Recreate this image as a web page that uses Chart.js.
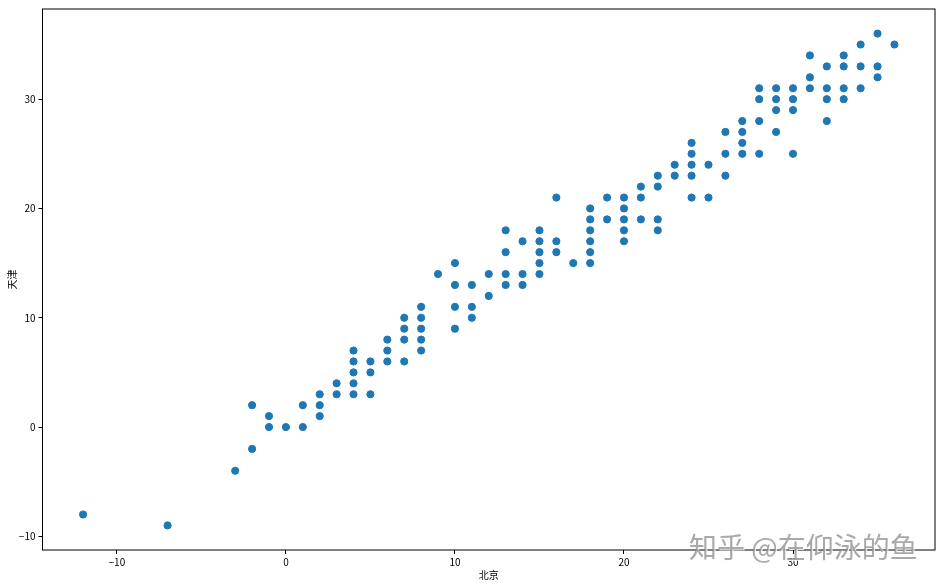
<!DOCTYPE html>
<html>
<head>
<meta charset="utf-8">
<script src="https://cdn.jsdelivr.net/npm/chart.js@4/dist/chart.umd.min.js"></script>
<style>
  body { margin: 0; background: #fff; }
  #box { width: 942px; height: 586px; }
</style>
</head>
<body>
<div id="box"><canvas id="myChart"></canvas></div>
<script>
'use strict';
// 北京 / 天津 temperatures
const beijing = [
    -12, -7, -3, -2, -2, -1, -1, 0, 1, 1,
    2, 2, 2, 3, 3, 4, 4, 4, 4, 4,
    5, 5, 5, 6, 6, 6, 7, 7, 7, 7,
    8, 8, 8, 8, 8, 9, 10, 10, 10, 10,
    11, 11, 11, 12, 12, 13, 13, 13, 13, 14,
    14, 14, 15, 15, 15, 15, 15, 16, 16, 16,
    17, 18, 18, 18, 18, 18, 18, 19, 19, 20,
    20, 20, 20, 20, 21, 21, 21, 22, 22, 22,
    22, 23, 23, 24, 24, 24, 24, 24, 25, 25,
    26, 26, 26, 27, 27, 27, 27, 28, 28, 28,
    28, 29, 29, 29, 29, 30, 30, 30, 30, 31,
    31, 31, 32, 32, 32, 32, 33, 33, 33, 33,
    34, 34, 34, 35, 35, 35, 36
];
const tianjin = [
    -8, -9, -4, -2, 2, 1, 0, 0, 0, 2,
    1, 2, 3, 3, 4, 3, 4, 5, 6, 7,
    3, 5, 6, 6, 7, 8, 6, 8, 9, 10,
    7, 8, 9, 10, 11, 14, 9, 11, 13, 15,
    10, 11, 13, 12, 14, 13, 14, 16, 18, 13,
    14, 17, 14, 15, 16, 17, 18, 16, 17, 21,
    15, 15, 16, 17, 18, 19, 20, 19, 21, 17,
    18, 19, 20, 21, 19, 21, 22, 18, 19, 22,
    23, 23, 24, 21, 23, 24, 25, 26, 21, 24,
    23, 25, 27, 25, 26, 27, 28, 25, 28, 30,
    31, 27, 29, 30, 31, 25, 29, 30, 31, 31,
    32, 34, 28, 30, 31, 33, 30, 31, 33, 34,
    31, 33, 35, 32, 33, 36, 35
];
const xTicks = [-10, 0, 10, 20, 30];
const yTicks = [-10, 0, 10, 20, 30];

const points = beijing.map((x, i) => ({ x: x, y: tianjin[i] }));
const tickFont = { family: '"Noto Sans CJK SC", "DejaVu Sans", sans-serif', size: 10 };
const minusSign = v => String(v).replace('-', '\u2212');

const framePlugin = {
    id: 'frame',
    afterDraw(chart) {
        const { ctx, chartArea: a } = chart;
        ctx.save();
        ctx.strokeStyle = '#000';
        ctx.lineWidth = 1;
        ctx.strokeRect(a.left, a.top, a.right - a.left, a.bottom - a.top);
        // watermark
        ctx.font = '28px "Noto Sans CJK SC", sans-serif';
        ctx.textBaseline = 'alphabetic';
        ctx.textAlign = 'left';
        ctx.fillStyle = 'rgba(255,255,255,0.8)';
        ctx.fillText('知乎 @在仰泳的鱼', 690, 559);
        ctx.fillStyle = 'rgba(140,140,140,0.75)';
        ctx.fillText('知乎 @在仰泳的鱼', 689, 558);
        ctx.restore();
    }
};

const ctx = document.getElementById('myChart').getContext('2d');
const myChart = new Chart(ctx, {
    type: 'scatter',
    data: {
        datasets: [{
            data: points,
            backgroundColor: '#1f77b4',
            borderColor: '#1f77b4',
            pointRadius: 3.6,
            pointHoverRadius: 3.6
        }]
    },
    options: {
        responsive: true,
        maintainAspectRatio: false,
        animation: false,
        layout: { padding: { top: 7, right: 7, left: 0, bottom: 0 } },
        plugins: {
            legend: { display: false },
            tooltip: { enabled: false }
        },
        scales: {
            x: {
                type: 'linear',
                min: -14.4,
                max: 38.4,
                afterFit: s => { s.height = 36; },
                afterBuildTicks: s => { s.ticks = xTicks.map(v => ({ value: v })); },
                grid: { drawOnChartArea: false, tickLength: 4, tickColor: '#000' },
                border: { display: false },
                ticks: { color: '#000', font: tickFont, padding: 2, maxRotation: 0, callback: minusSign },
                title: { display: true, text: '北京', color: '#000', font: tickFont, padding: { top: 0, bottom: 5 } }
            },
            y: {
                type: 'linear',
                min: -11.25,
                max: 38.25,
                afterFit: s => { s.width = 42.5; },
                afterBuildTicks: s => { s.ticks = yTicks.map(v => ({ value: v })); },
                grid: { drawOnChartArea: false, tickLength: 4, tickColor: '#000' },
                border: { display: false },
                ticks: { color: '#000', font: tickFont, padding: 3, callback: minusSign },
                title: { display: true, text: '天津', color: '#000', font: tickFont, padding: { top: 6, bottom: 0 } }
            }
        }
    },
    plugins: [framePlugin]
});
</script>
</body>
</html>
